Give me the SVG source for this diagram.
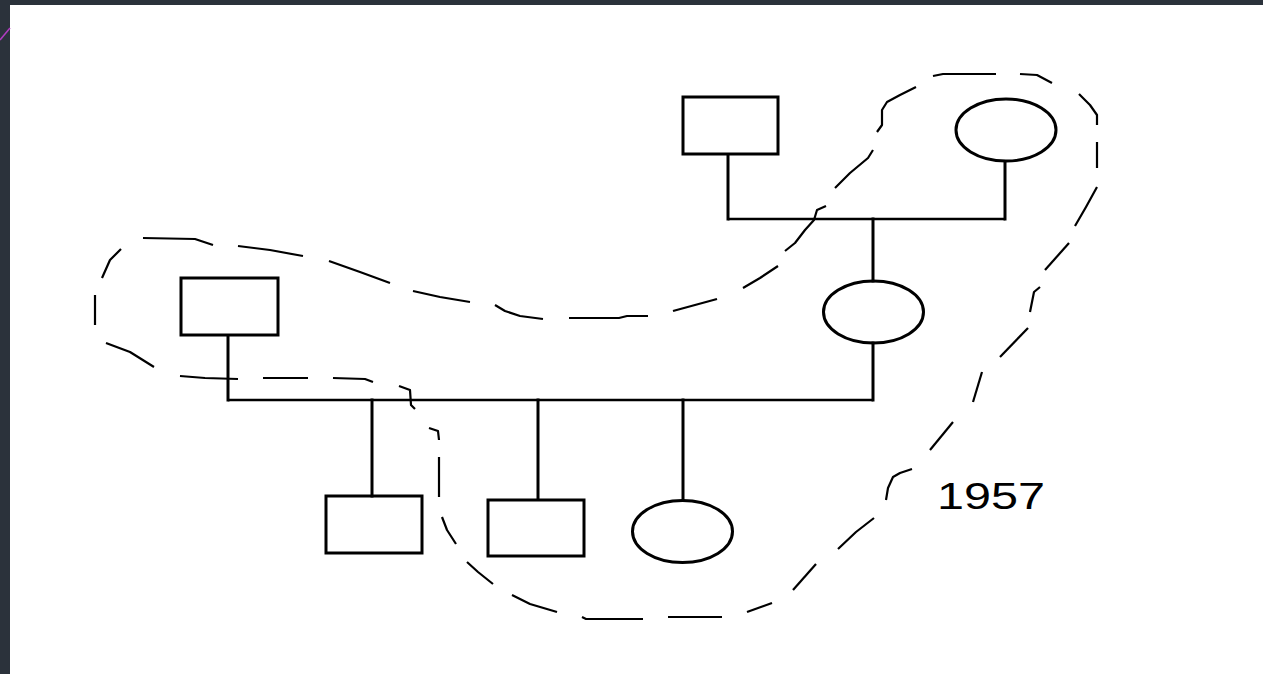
<svg xmlns="http://www.w3.org/2000/svg" width="1263" height="674" viewBox="0 0 1263 674">
<style>
.n{fill:none;stroke:#000;stroke-width:3}
.c{fill:none;stroke:#000;stroke-width:3;stroke-linecap:square}
.h{fill:none;stroke:#000;stroke-width:2.5}
.d{fill:none;stroke:#000;stroke-width:2.2;stroke-linejoin:round}
.t{font-family:"Liberation Sans",Arial,sans-serif;font-size:36px;fill:#000}
</style>
<rect x="0" y="0" width="1263" height="674" fill="#fff"/>
<rect x="0" y="0" width="1263" height="5" fill="#2b323b"/>
<rect x="0" y="0" width="10" height="674" fill="#2b323b"/>
<line x1="0" y1="40" x2="10" y2="28" stroke="#b03cc0" stroke-width="1.5"/>

<g id="connectors">
<line class="c" x1="728" y1="155" x2="728" y2="219"/>
<line class="c" x1="1005" y1="162" x2="1005" y2="219"/>
<line class="h" x1="728" y1="219" x2="1005" y2="219"/>
<line class="c" x1="873" y1="219" x2="873" y2="281"/>
<line class="c" x1="873" y1="343" x2="873" y2="400"/>
<line class="c" x1="228" y1="336" x2="228" y2="400"/>
<line class="h" x1="228" y1="400" x2="873" y2="400"/>
<line class="c" x1="372" y1="400" x2="372" y2="496"/>
<line class="c" x1="538" y1="400" x2="538" y2="499"/>
<line class="c" x1="683" y1="400" x2="683" y2="500"/>
</g>

<g id="grandfather"><rect class="n" x="683" y="97" width="95" height="57"/></g>
<g id="grandmother"><ellipse class="n" cx="1006" cy="130" rx="50" ry="31"/></g>
<g id="mother"><ellipse class="n" cx="873.5" cy="312" rx="50" ry="31"/></g>
<g id="father"><rect class="n" x="181" y="278" width="97" height="57"/></g>
<g id="child1"><rect class="n" x="326" y="496" width="96" height="57"/></g>
<g id="child2"><rect class="n" x="488" y="500" width="96" height="56"/></g>
<g id="child3"><ellipse class="n" cx="682.5" cy="531.5" rx="50" ry="31"/></g>

<g id="boundary">
<polyline class="d" points="933,76 943,74 996,74"/>
<polyline class="d" points="1020,74 1037,75 1052,83"/>
<polyline class="d" points="1079,94 1090,105 1097,115 1097,125"/>
<polyline class="d" points="1097,142 1097,168"/>
<polyline class="d" points="1097,187 1086,207 1075,226"/>
<polyline class="d" points="1069,243 1045,270"/>
<polyline class="d" points="1040,287 1034,292 1030,312"/>
<polyline class="d" points="1028,328 1000,357"/>
<polyline class="d" points="982,372 973,402"/>
<polyline class="d" points="953,422 930,450"/>
<polyline class="d" points="912,469 900,473 893,477 888,488 886,500"/>
<polyline class="d" points="874,518 856,532 838,549"/>
<polyline class="d" points="816,564 793,590"/>
<polyline class="d" points="772,603 747,612"/>
<polyline class="d" points="722,617 668,617"/>
<polyline class="d" points="643,619 586,619 582,617"/>
<polyline class="d" points="557,612 530,604 512,595"/>
<polyline class="d" points="493,584 478,572 467,562"/>
<polyline class="d" points="456,544 447,530 442,517"/>
<polyline class="d" points="439,497 439,457"/>
<polyline class="d" points="439,440 438,431 429,428"/>
<polyline class="d" points="415,409 411,405 410,390 399,386"/>
<polyline class="d" points="373,382 365,379 333,378"/>
<polyline class="d" points="308,378 263,378"/>
<polyline class="d" points="238,379 205,378 180,376"/>
<polyline class="d" points="154,367 130,352 106,343"/>
<polyline class="d" points="95,325 95,295"/>
<polyline class="d" points="102,278 110,260 121,249"/>
<polyline class="d" points="143,238 195,239 213,245"/>
<polyline class="d" points="238,246 270,250 303,256"/>
<polyline class="d" points="329,261 360,272 390,283"/>
<polyline class="d" points="413,291 440,297 470,302"/>
<polyline class="d" points="495,305 505,311 520,316 543,319"/>
<polyline class="d" points="569,318 619,318 627,316 648,316"/>
<polyline class="d" points="673,311 695,305 717,299"/>
<polyline class="d" points="743,288 760,278 778,266"/>
<polyline class="d" points="785,251 795,243 805,230 814,220 817,210 826,206"/>
<polyline class="d" points="835,188 850,173 868,158 873,150"/>
<polyline class="d" points="877,132 882,125 882,110 887,102 900,95 916,87"/>
</g>

<text class="t" x="937" y="509" textLength="108" lengthAdjust="spacingAndGlyphs">1957</text>
</svg>
